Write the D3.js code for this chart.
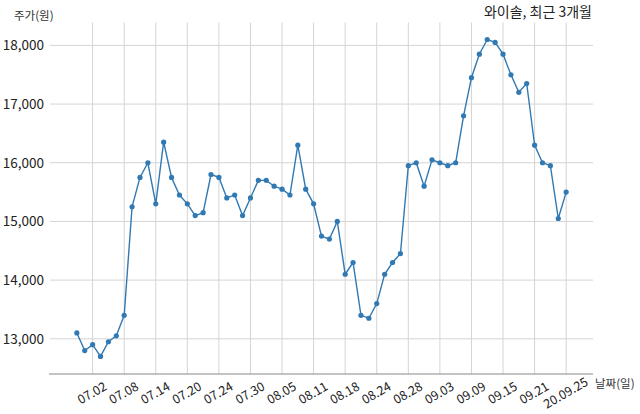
<!DOCTYPE html>
<html>
<head>
<meta charset="utf-8">
<script src="https://cdn.jsdelivr.net/npm/d3@7"></script>
<style>
  body { margin: 0; background: #fff; }
  svg { font-family: "Noto Sans CJK KR", "Noto Sans", sans-serif; }
</style>
</head>
<body>
<svg id="chart" width="640" height="414"></svg>
<script>
// 거래일 (2020.06.30 ~ 2020.09.25)
var dates = [
  "06.30", "07.01", "07.02", "07.03", "07.06", "07.07", "07.08", "07.09", "07.10", "07.13",
  "07.14", "07.15", "07.16", "07.17", "07.20", "07.21", "07.22", "07.23", "07.24", "07.27",
  "07.28", "07.29", "07.30", "07.31", "08.03", "08.04", "08.05", "08.06", "08.07", "08.10",
  "08.11", "08.12", "08.13", "08.14", "08.18", "08.19", "08.20", "08.21", "08.24", "08.25",
  "08.26", "08.27", "08.28", "08.31", "09.01", "09.02", "09.03", "09.04", "09.07", "09.08",
  "09.09", "09.10", "09.11", "09.14", "09.15", "09.16", "09.17", "09.18", "09.21", "09.22",
  "09.23", "09.24", "09.25"
];

// 종가 (원)
var prices = [
  13100, 12800, 12900, 12700, 12950, 13050, 13400, 15250, 15750, 16000,
  15300, 16350, 15750, 15450, 15300, 15100, 15150, 15800, 15750, 15400,
  15450, 15100, 15400, 15700, 15700, 15600, 15550, 15450, 16300, 15550,
  15300, 14750, 14700, 15000, 14100, 14300, 13400, 13350, 13600, 14100,
  14300, 14450, 15950, 16000, 15600, 16050, 16000, 15950, 16000, 16800,
  17450, 17850, 18100, 18050, 17850, 17500, 17200, 17350, 16300, 16000,
  15950, 15050, 15500
];

// x축 눈금 (4 거래일마다)
var tickIdx = [2, 6, 10, 14, 18, 22, 26, 30, 34, 38, 42, 46, 50, 54, 58, 62];
var tickLabels = ["07.02", "07.08", "07.14", "07.20", "07.24", "07.30", "08.05", "08.11",
  "08.18", "08.24", "08.28", "09.03", "09.09", "09.15", "09.21", "20.09.25"];

var yTicks = [13000, 14000, 15000, 16000, 17000, 18000];

var svg = d3.select("#chart");
var pLeft = 50, pRight = 593, pTop = 22.5, pBottom = 374;
var color = "#3079b3";

var x = d3.scaleLinear().domain([-3.4, 65.4]).range([pLeft, pRight]);
var y = d3.scaleLinear().domain([12400, 18390]).range([pBottom, pTop]);

// grid
svg.append("g")
  .selectAll("line")
  .data(yTicks)
  .enter().append("line")
    .attr("x1", pLeft).attr("x2", pRight)
    .attr("y1", function(d) { return y(d); })
    .attr("y2", function(d) { return y(d); })
    .attr("stroke", "#d4d4d4").attr("stroke-width", 1);

svg.append("g")
  .selectAll("line")
  .data(tickIdx)
  .enter().append("line")
    .attr("x1", function(d) { return x(d); })
    .attr("x2", function(d) { return x(d); })
    .attr("y1", pTop).attr("y2", pBottom)
    .attr("stroke", "#d4d4d4").attr("stroke-width", 1);

// y axis labels
var yAxis = svg.append("g")
  .attr("transform", "translate(" + (pLeft - 3) + ",0)")
  .call(d3.axisLeft(y).tickValues(yTicks).tickSize(0).tickFormat(d3.format(",")));
yAxis.select(".domain").remove();
yAxis.selectAll("text")
  .attr("font-size", 13.5)
  .attr("fill", "#222")
  .attr("font-family", "'Noto Sans CJK KR', sans-serif");

// x axis
var xAxis = svg.append("g")
  .attr("transform", "translate(0," + pBottom + ")")
  .call(d3.axisBottom(x).tickValues(tickIdx).tickSize(0)
    .tickFormat(function(d, i) { return tickLabels[i]; }));
xAxis.select(".domain").remove();
xAxis.selectAll("text")
  .attr("font-size", 12.5)
  .attr("fill", "#222")
  .attr("font-family", "'Noto Sans CJK KR', sans-serif")
  .attr("text-anchor", "middle")
  .attr("dy", "0.35em")
  .attr("y", 0)
  .attr("transform", "translate(-1,19) rotate(-30)");

svg.append("line")
  .attr("x1", pLeft - 1).attr("x2", pRight)
  .attr("y1", pBottom).attr("y2", pBottom)
  .attr("stroke", "#888").attr("stroke-width", 1);

// line + markers
var line = d3.line()
  .x(function(d, i) { return x(i); })
  .y(function(d) { return y(d); });

svg.append("path")
  .datum(prices)
  .attr("d", line)
  .attr("fill", "none")
  .attr("stroke", color)
  .attr("stroke-width", 1.4);

svg.append("g")
  .selectAll("circle")
  .data(prices)
  .enter().append("circle")
    .attr("cx", function(d, i) { return x(i); })
    .attr("cy", function(d) { return y(d); })
    .attr("r", 2.6)
    .attr("fill", color);

// labels
svg.append("text")
  .attr("x", 14).attr("y", 20)
  .attr("font-size", 11.5).attr("fill", "#333")
  .text("주가(원)");

svg.append("text")
  .attr("x", 595).attr("y", 388)
  .attr("font-size", 11.5).attr("fill", "#333")
  .text("날짜(일)");

svg.append("text")
  .attr("x", 592).attr("y", 17)
  .attr("text-anchor", "end")
  .attr("font-size", 14).attr("fill", "#222")
  .text("와이솔, 최근 3개월");
</script>
</body>
</html>
